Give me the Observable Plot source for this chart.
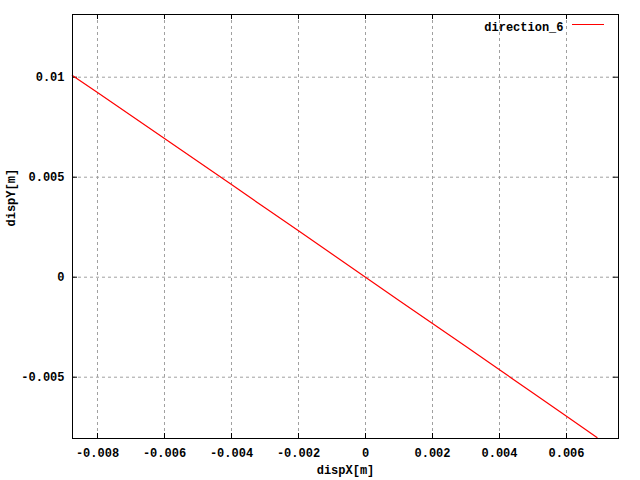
<!DOCTYPE html>
<html>
<head>
<meta charset="utf-8">
<script src="https://cdn.jsdelivr.net/npm/d3@7"></script>
<script src="https://cdn.jsdelivr.net/npm/@observablehq/plot@0.6"></script>
<style>
  html, body { margin: 0; padding: 0; background: #fff; }
  svg { display: block; }
</style>
</head>
<body>
<div id="chart"></div>
<script>
const seriesName = "direction_6";
const dispX = [-0.00875, -0.008, -0.007, -0.006, -0.005, -0.004, -0.003, -0.002, -0.001, 0, 0.001, 0.002, 0.003, 0.004, 0.005, 0.006, 0.00691];
const dispY = [0.01009, 0.00924, 0.00809, 0.00694, 0.00578, 0.00463, 0.00347, 0.00232, 0.00116, 0, -0.00116, -0.00231, -0.00347, -0.00463, -0.00579, -0.00695, -0.00802];
const xTicks = [-0.008, -0.006, -0.004, -0.002, 0, 0.002, 0.004, 0.006];
const xTickLabels = ["-0.008", "-0.006", "-0.004", "-0.002", "0", "0.002", "0.004", "0.006"];
const yTicks = [-0.005, 0, 0.005, 0.01];
const yTickLabels = ["-0.005", "0", "0.005", "0.01"];
const xLabel = "dispX[m]";
const yLabel = "dispY[m]";

const data = dispX.map((x, i) => ({x, y: dispY[i]}));

const W = 640, H = 480;
const mL = 72, mR = 22, mT = 14, mB = 42;
const innerW = W - mL - mR, innerH = H - mT - mB;
const font = "'Liberation Mono', 'DejaVu Sans Mono', monospace";
const xFmt = d => xTickLabels[xTicks.indexOf(d)];
const yFmt = d => yTickLabels[yTicks.indexOf(d)];

const chart = Plot.plot({
  width: W, height: H,
  marginLeft: mL, marginRight: mR, marginTop: mT, marginBottom: mB,
  style: {fontFamily: font, fontSize: "12px", fontWeight: "bold", color: "#000", background: "#fff"},
  x: {domain: [-0.008746, 0.007552]},
  y: {domain: [-0.008065, 0.013135]},
  marks: [
    Plot.gridX(xTicks, {stroke: "#a0a0a0", strokeOpacity: 1, strokeDasharray: "3,3"}),
    Plot.gridY(yTicks, {stroke: "#a0a0a0", strokeOpacity: 1, strokeDasharray: "3,3"}),
    // inward ticks on all four sides
    Plot.tickX(xTicks, {x: d => d, stroke: "#000", insetTop: innerH - 5}),
    Plot.tickX(xTicks, {x: d => d, stroke: "#000", insetBottom: innerH - 5}),
    Plot.tickY(yTicks, {y: d => d, stroke: "#000", insetRight: innerW - 5}),
    Plot.tickY(yTicks, {y: d => d, stroke: "#000", insetLeft: innerW - 5}),
    Plot.axisX(xTicks, {anchor: "bottom", tickSize: 0, tickPadding: 10, tickFormat: xFmt, label: null, fontWeight: "bold"}),
    Plot.axisY(yTicks, {anchor: "left", tickSize: 0, tickPadding: 8, tickFormat: yFmt, label: null, fontWeight: "bold"}),
    Plot.text([xLabel], {frameAnchor: "bottom", dy: 35, fontWeight: "bold", fontSize: 12}),
    Plot.text([yLabel], {frameAnchor: "left", dx: -61, rotate: -90, fontWeight: "bold", fontSize: 12}),
    Plot.line(data, {x: "x", y: "y", stroke: "#ff0000", strokeWidth: 1.2}),
    Plot.frame({stroke: "#000", strokeWidth: 1}),
    Plot.text([seriesName], {frameAnchor: "top-right", dx: -55, dy: 8, textAnchor: "end", fontWeight: "bold", fontSize: 12})
  ]
});

// legend sample line
const svg = d3.select(chart);
svg.append("line")
  .attr("x1", W - mR - 46).attr("x2", W - mR - 14)
  .attr("y1", mT + 10.5).attr("y2", mT + 10.5)
  .attr("stroke", "#ff0000").attr("stroke-width", 1);

document.getElementById("chart").appendChild(chart);
</script>
</body>
</html>
